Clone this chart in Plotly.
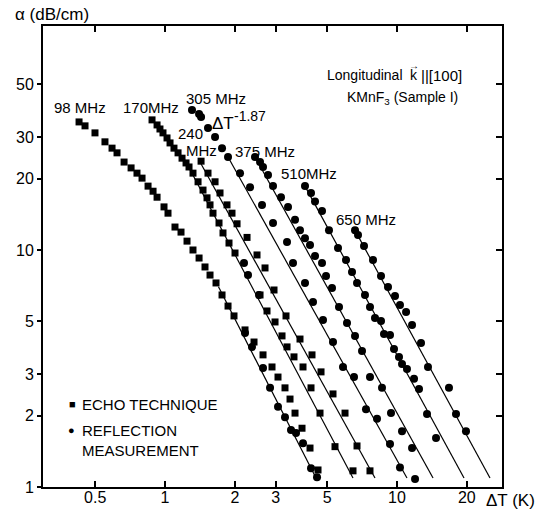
import plotly.graph_objects as go

# ---------------- data (ΔT in K, α in dB/cm) ----------------
# 98 MHz, echo technique (squares)
echo98_dT = [0.426, 0.452, 0.499, 0.551, 0.591, 0.621, 0.666, 0.714, 0.757, 0.796, 0.845, 0.888, 0.924,
             0.990, 1.030, 1.104, 1.172, 1.244, 1.320, 1.402, 1.487, 1.563, 1.659, 1.761, 1.869, 1.983,
             2.212, 2.419, 2.645, 2.892, 3.069, 3.290, 3.458, 3.634, 3.895, 4.217, 4.566]
echo98_a = [34.7, 33.4, 31.2, 28.6, 26.9, 25.7, 23.5, 22.2, 21.1, 20.1, 18.6, 17.7, 16.7,
            15.2, 14.3, 12.5, 11.9, 10.9, 10.0, 9.25, 8.48, 7.84, 7.26, 6.46, 5.80, 5.27,
            4.60, 4.09, 3.61, 3.21, 2.91, 2.62, 2.35, 2.05, 1.77, 1.46, 1.18]
# 98 MHz, reflection (circles)
refl98_dT = [2.212, 2.371, 2.645, 2.836, 3.069, 3.290, 3.492, 3.670, 3.934, 4.259, 4.521]
refl98_a = [4.46, 3.90, 3.18, 2.62, 2.18, 1.97, 1.74, 1.69, 1.53, 1.20, 1.10]

# 170 MHz, echo technique (squares)
echo170_dT = [0.879, 0.924, 0.951, 0.980, 1.020, 1.051, 1.093, 1.138, 1.184, 1.232, 1.269, 1.320, 1.388,
              1.458, 1.517, 1.563, 1.610, 1.709, 1.778, 1.887, 2.003, 2.568, 2.752, 2.980, 3.194, 3.357,
              3.597, 3.934, 4.259, 4.657, 5.404, 6.461]
echo170_a = [35.4, 33.7, 32.4, 31.2, 29.7, 28.3, 26.9, 25.7, 24.4, 23.3, 22.4, 21.1, 19.4,
             17.9, 16.6, 15.5, 14.3, 13.0, 11.8, 10.7, 9.71, 6.46, 5.53, 4.97, 4.34, 3.90,
             3.54, 3.21, 2.62, 2.05, 1.48, 1.17]
# 170 MHz, reflection (circles)
refl170_dT = [2.190, 2.279, 2.542]
refl170_a = [8.81, 7.84, 6.46]

# 240 MHz, echo technique (squares)
echo240_dT = [1.430, 1.532, 1.643, 1.726, 1.850, 1.944, 2.044, 2.257, 2.492, 2.698, 2.950, 3.323,
              3.818, 4.301, 4.704, 5.298, 5.969, 6.724, 7.648]
echo240_a = [23.7, 21.1, 19.4, 17.4, 15.5, 14.3, 12.9, 11.3, 9.53, 8.40, 6.78, 5.27,
             4.21, 3.61, 3.06, 2.47, 2.05, 1.49, 1.17]

# 305 MHz, reflection (circles)
refl305_dT = [1.307, 1.402, 1.430, 1.532, 1.643, 1.761, 1.869, 2.105, 2.325, 2.619, 2.921, 3.357,
              3.562, 4.012, 4.345, 4.798, 5.298, 5.851, 6.526, 7.350, 8.200, 9.328, 10.30, 11.96]
refl305_a = [39.0, 37.5, 36.4, 32.7, 30.0, 26.9, 24.7, 21.1, 18.4, 15.5, 13.0, 10.8,
             8.81, 7.26, 6.03, 5.07, 4.09, 3.21, 2.91, 2.13, 1.94, 1.52, 1.21, 1.08]

# 375 MHz, reflection (circles)
refl375_dT = [2.443, 2.568, 2.645, 2.780, 2.921, 3.162, 3.390, 3.634, 3.818, 4.012, 4.217, 4.432,
              4.751, 4.943, 5.246, 5.623, 6.087, 6.592, 7.066, 7.648, 8.616, 9.422, 10.51, 11.61]
refl375_a = [24.7, 23.5, 22.4, 20.7, 18.6, 16.7, 15.2, 13.4, 12.1, 11.2, 10.5, 9.43,
             8.81, 7.77, 6.91, 5.75, 4.92, 4.34, 3.75, 2.91, 2.62, 2.05, 1.72, 1.46]

# 510 MHz, reflection (circles)
refl510_dT = [4.012, 4.259, 4.432, 4.751, 5.091, 5.568, 6.027, 6.398, 6.724, 7.277, 7.648, 8.038,
              8.532, 8.790, 9.328, 9.707, 10.20, 10.51, 11.04, 11.84, 12.44, 13.47, 14.73]
refl510_a = [18.6, 17.4, 16.0, 14.6, 12.1, 10.2, 9.07, 8.08, 7.26, 6.46, 5.75, 5.17,
             5.02, 4.42, 4.38, 3.82, 3.54, 3.30, 3.15, 2.86, 2.59, 2.03, 1.61]

# 650 MHz, reflection (circles)
refl650_dT = [6.592, 6.791, 7.208, 7.880, 8.532, 9.146, 9.803, 10.30, 10.94, 11.61, 12.69, 13.60,
              16.75, 17.96, 19.83]
refl650_a = [12.1, 11.57, 10.39, 9.07, 7.77, 6.98, 6.40, 5.86, 5.47, 4.83, 4.05, 3.21,
             2.62, 2.03, 1.72]

# fitted ΔT^-1.87 lines: start / end points for each frequency
fit_dT_start = [1.70, 1.219, 1.415, 1.869, 2.443, 4.012, 6.592]
fit_a_start = [7.0, 23.97, 23.5, 24.7, 24.7, 18.6, 12.1]
fit_dT_end = [4.476, 6.461, 8.038, 11.04, 14.30, 19.45, 25.17]
fit_a_end = [1.091, 1.091, 1.091, 1.091, 1.091, 1.091, 1.091]

x_ticks = [0.5, 1, 2, 3, 5, 10, 20]
x_ticktext = ["0.5", "1", "2", "3", "5", "10", "20"]
y_ticks = [1, 2, 3, 5, 10, 20, 30, 50]
y_ticktext = ["1", "2", "3", "5", "10", "20", "30", "50"]

# ---------------- figure ----------------
FONT = "Liberation Sans"
fig = go.Figure()

for xs, ys, xe, ye in zip(fit_dT_start, fit_a_start, fit_dT_end, fit_a_end):
    fig.add_trace(go.Scatter(x=[xs, xe], y=[ys, ye], mode="lines",
                             line=dict(color="black", width=1.2), showlegend=False,
                             hoverinfo="skip"))

square_sets = [(echo98_dT, echo98_a), (echo170_dT, echo170_a), (echo240_dT, echo240_a)]
circle_sets = [(refl98_dT, refl98_a), (refl170_dT, refl170_a), (refl305_dT, refl305_a),
               (refl375_dT, refl375_a), (refl510_dT, refl510_a), (refl650_dT, refl650_a)]

for xs, ys in square_sets:
    fig.add_trace(go.Scatter(x=xs, y=ys, mode="markers",
                             marker=dict(symbol="square", size=7, color="black"),
                             showlegend=False))
for xs, ys in circle_sets:
    fig.add_trace(go.Scatter(x=xs, y=ys, mode="markers",
                             marker=dict(symbol="circle", size=8, color="black"),
                             showlegend=False))

# invisible trace to carry the mirrored (top/right) tick axes
fig.add_trace(go.Scatter(x=[1], y=[1], xaxis="x2", yaxis="y2", mode="markers",
                         marker=dict(opacity=0), showlegend=False, hoverinfo="skip"))

xr = [-0.526, 1.4526]
yr = [0.0, 1.9451]
axis_common = dict(type="log", showgrid=False, zeroline=False, automargin=False)

fig.update_layout(
    width=536, height=512,
    margin=dict(l=43, r=34, t=26, b=25),
    paper_bgcolor="white", plot_bgcolor="white",
    font=dict(family=FONT, color="black", size=15),
    xaxis=dict(**axis_common, range=xr, tickvals=x_ticks, ticktext=x_ticktext,
               ticks="inside", ticklen=6, tickwidth=1.5, tickcolor="black",
               ticklabelstandoff=-5,
               showline=True, linewidth=2, linecolor="black", mirror=True,
               tickfont=dict(size=16, family=FONT)),
    yaxis=dict(**axis_common, range=yr, tickvals=y_ticks, ticktext=y_ticktext,
               ticks="outside", ticklen=4, tickwidth=1.5, tickcolor="black",
               showline=True, linewidth=2, linecolor="black", mirror=True,
               tickfont=dict(size=16, family=FONT)),
    xaxis2=dict(**axis_common, range=xr, tickvals=x_ticks, overlaying="x", side="top",
                anchor="y", ticks="inside", ticklen=6, tickwidth=1.5, tickcolor="black",
                showticklabels=False, showline=False),
    yaxis2=dict(**axis_common, range=yr, tickvals=y_ticks[1:], overlaying="y", side="right",
                anchor="x", ticks="inside", ticklen=6, tickwidth=1.5, tickcolor="black",
                showticklabels=False, showline=False),
    showlegend=False,
)

W, H, L, B = 459.0, 461.0, 43.0, 487.0

def ann(text, px, py, size=15, xanchor="center", yanchor="middle", align="center"):
    # px, py: label position in picture pixels, converted to paper fractions
    fig.add_annotation(text=text, x=(px - L) / W, y=(B - py) / H, xref="paper", yref="paper",
                       showarrow=False, xanchor=xanchor, yanchor=yanchor, align=align,
                       font=dict(size=size, family=FONT, color="black"))

ann("α (dB/cm)", 52, 15, size=17)
ann("ΔT (K)", 510, 501, size=17)
ann("98 MHz", 80, 108)
ann("170MHz", 151, 107)
ann("305 MHz", 216, 98)
ann("ΔT", 210, 123, size=17, xanchor="left")
ann("-1.87", 232, 116, size=14, xanchor="left")
ann("240", 176, 134, xanchor="left")
ann("MHz", 184, 150, xanchor="left")
ann("375 MHz", 265, 151)
ann("510MHz", 309, 174)
ann("650 MHz", 366, 220)
ann("Longitudinal", 405, 75, size=14, xanchor="right")
ann("k", 414, 75, size=14)
ann("→", 414, 65, size=10)
ann("||[100]", 419, 75, size=15, xanchor="left")
ann("KMnF<sub>3</sub> (Sample I)", 402, 98, size=14)
ann("■", 72, 404, size=11)
ann("●", 71, 430, size=11)
ann("ECHO TECHNIQUE", 80, 404, size=15, xanchor="left")
ann("REFLECTION<br>MEASUREMENT", 80, 440, size=15, xanchor="left", align="left")

fig.write_html("out.html")
